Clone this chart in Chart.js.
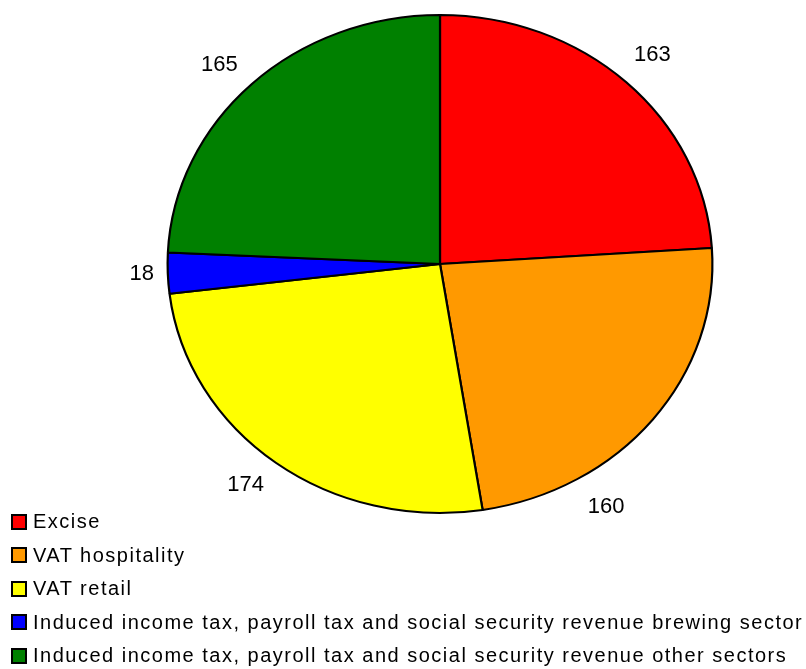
<!DOCTYPE html>
<html lang="en">
<head>
    <meta charset="UTF-8">
    <title>Tax revenue pie</title>
    <script src="https://cdn.jsdelivr.net/npm/chart.js"></script>
    <style>
        body {
            margin: 0;
            background: #fff;
            font-family: "Liberation Sans", Arial, sans-serif;
        }

        #wrap {
            position: relative;
            width: 806px;
            height: 669px;
        }

        #legend {
            position: absolute;
            left: 11px;
            top: 505px;
            font-size: 20px;
            letter-spacing: 1.5px;
            color: #000;
        }

        .row {
            height: 33.5px;
            display: flex;
            align-items: center;
            white-space: nowrap;
        }

        .box {
            width: 12px;
            height: 12px;
            border: 2px solid #000;
            margin-right: 6px;
        }
    </style>
</head>
<body>
    <div id="wrap">
        <canvas id="pie" width="806" height="669"></canvas>
        <div id="legend"></div>
    </div>

    <script>
        const labels = [
            'Excise',
            'VAT hospitality',
            'VAT retail',
            'Induced income tax, payroll tax and social security revenue brewing sector',
            'Induced income tax, payroll tax and social security revenue other sectors'
        ];
        const values = [163, 160, 174, 18, 165];
        const colors = ['#FF0000', '#FF9900', '#FFFF00', '#0000FF', '#008000'];

        const stretchX = 1.094; // pie is drawn as a wide ellipse

        const ellipse = {
            id: 'ellipse',
            beforeDatasetsDraw(chart) {
                const arc = chart.getDatasetMeta(0).data[0];
                const ctx = chart.ctx;
                ctx.save();
                ctx.translate(arc.x, arc.y);
                ctx.scale(stretchX, 1);
                ctx.translate(-arc.x, -arc.y);
            },
            afterDatasetsDraw(chart) {
                chart.ctx.restore();
            }
        };

        // value labels outside the slices
        const outLabels = {
            id: 'outLabels',
            afterDraw(chart, args, opts) {
                const ctx = chart.ctx;
                ctx.save();
                ctx.font = '22px "Liberation Sans", Arial, sans-serif';
                ctx.fillStyle = '#000';
                ctx.textAlign = 'center';
                ctx.textBaseline = 'middle';
                chart.getDatasetMeta(0).data.forEach((arc, i) => {
                    const shift = (opts.shift[i] || 0) * Math.PI / 180;
                    const mid = (arc.startAngle + arc.endAngle) / 2 + shift;
                    const r = arc.outerRadius;
                    const gap = opts.gap[i];
                    const x = arc.x + Math.cos(mid) * (r * stretchX + gap);
                    const y = arc.y + Math.sin(mid) * (r + gap);
                    ctx.fillText(String(values[i]), x, y);
                });
                ctx.restore();
            }
        };

        new Chart(document.getElementById('pie'), {
            type: 'pie',
            data: {
                labels: labels,
                datasets: [{
                    data: values,
                    backgroundColor: colors,
                    borderColor: '#000',
                    borderWidth: 2
                }]
            },
            options: {
                responsive: false,
                animation: false,
                layout: {
                    padding: { left: 190, right: 116, top: 14, bottom: 155 }
                },
                plugins: {
                    legend: { display: false },
                    tooltip: { enabled: false },
                    outLabels: { gap: [38, 38, 36, 26, 36], shift: { 1: 19, 2: 2, 4: -2 } }
                }
            },
            plugins: [ellipse, outLabels]
        });

        const legend = document.getElementById('legend');
        labels.forEach((name, i) => {
            const row = document.createElement('div');
            row.className = 'row';
            const box = document.createElement('span');
            box.className = 'box';
            box.style.background = colors[i];
            row.appendChild(box);
            row.appendChild(document.createTextNode(name));
            legend.appendChild(row);
        });
    </script>
</body>
</html>
